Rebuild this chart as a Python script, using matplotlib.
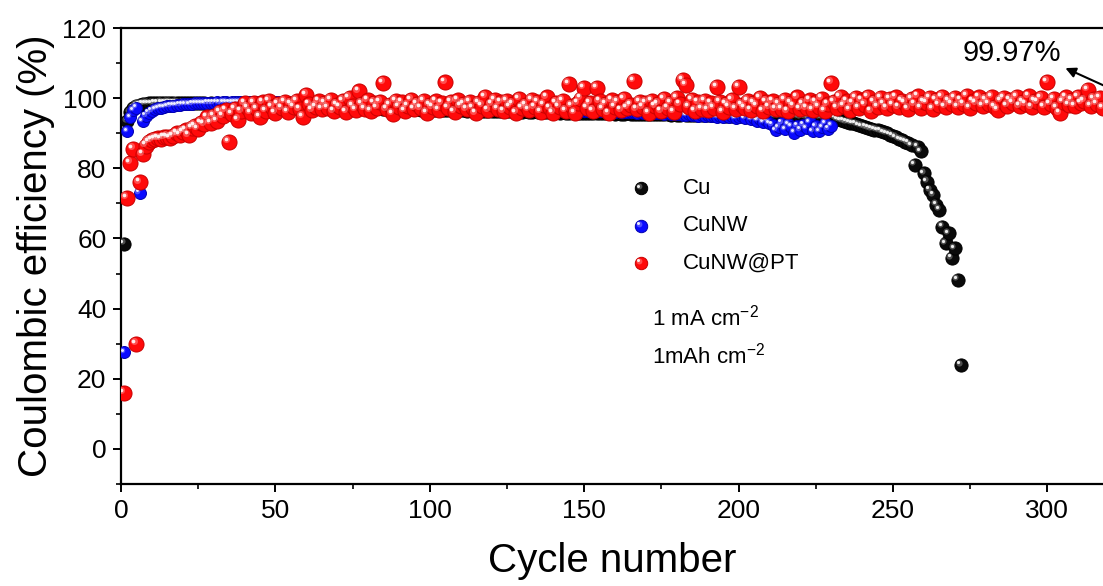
import numpy as np
import matplotlib
matplotlib.use("Agg")
import matplotlib.pyplot as plt
from matplotlib.transforms import offset_copy

plt.rcParams['font.family'] = ['Liberation Sans', 'DejaVu Sans']
plt.rcParams['mathtext.default'] = 'regular'

# =====================================================================
# Coulombic efficiency (%) per cycle
# =====================================================================
cu_ce = [
    58.5, 93.5, 96.0, 97.2, 97.8, 98.1, 98.3, 98.4, 98.5, 98.5,
    98.6, 98.6, 98.7, 98.6, 98.7, 98.7, 98.6, 98.7, 98.6, 98.6,
    98.6, 98.5, 98.6, 98.5, 98.5, 98.6, 98.5, 98.4, 98.5, 98.4,
    98.4, 98.4, 98.3, 98.4, 98.3, 98.3, 98.2, 98.3, 98.2, 98.2,
    98.1, 98.2, 98.1, 98.1, 98.0, 98.1, 98.0, 98.0, 97.9, 98.0,
    97.9, 97.9, 97.8, 97.9, 97.8, 97.8, 97.7, 97.8, 97.7, 97.7,
    97.6, 97.7, 97.6, 97.6, 97.5, 97.6, 97.5, 97.5, 97.4, 97.5,
    97.4, 97.4, 97.3, 97.4, 97.3, 97.3, 97.2, 97.3, 97.2, 97.2,
    97.1, 97.2, 97.1, 97.1, 97.0, 97.1, 97.0, 97.0, 96.9, 97.0,
    96.9, 96.9, 96.8, 96.9, 96.8, 96.8, 96.7, 96.8, 96.7, 96.7,
    96.7, 96.6, 96.7, 96.6, 96.6, 96.5, 96.6, 96.5, 96.5, 96.6,
    96.5, 96.4, 96.5, 96.4, 96.4, 96.5, 96.4, 96.3, 96.4, 96.3,
    96.3, 96.4, 96.3, 96.2, 96.3, 96.2, 96.2, 96.3, 96.2, 96.1,
    96.2, 96.1, 96.1, 96.2, 96.1, 96.0, 96.1, 96.0, 96.0, 96.1,
    96.0, 95.9, 96.0, 95.9, 95.9, 96.0, 95.9, 95.8, 95.9, 95.8,
    95.8, 95.9, 95.8, 95.7, 95.8, 95.7, 95.7, 95.8, 95.7, 95.6,
    95.7, 95.6, 95.6, 95.7, 95.6, 95.5, 95.6, 95.5, 95.5, 95.6,
    95.5, 95.4, 95.5, 95.4, 95.4, 95.5, 95.4, 95.3, 95.4, 95.3,
    95.3, 95.4, 95.3, 95.2, 95.3, 95.2, 95.2, 95.3, 95.2, 95.1,
    95.2, 95.1, 95.1, 95.2, 95.1, 95.0, 95.1, 95.0, 95.0, 95.1,
    95.0, 94.9, 95.0, 94.9, 94.9, 95.0, 94.9, 94.8, 94.9, 94.8,
    94.8, 94.9, 94.8, 94.7, 94.8, 94.7, 94.7, 94.8, 94.7, 94.6,
    94.7, 94.6, 94.6, 94.7, 94.6, 94.5, 94.6, 94.5, 94.8, 94.8,
    94.4, 94.0, 93.7, 93.5, 93.2, 93.0, 92.8, 92.6, 92.3, 92.0,
    91.8, 91.5, 91.2, 91.0, 90.8, 90.6, 90.3, 90.0, 89.6, 89.2,
    88.8, 88.3, 88.0, 87.6, 87.2, 86.6, 81.0, 86.2, 84.8, 78.6,
    76.2, 73.8, 72.4, 69.6, 68.2, 63.4, 58.6, 61.5, 54.4, 57.2,
    48.2, 23.9,
]

cunw_ce = [
    27.5, 90.5, 94.5, 96.5, 97.3, 73.0, 93.5, 95.0, 95.8, 96.4,
    96.8, 97.1, 97.3, 97.5, 97.7, 97.8, 97.9, 98.0, 98.1, 98.2,
    98.3, 98.3, 98.4, 98.5, 98.5, 98.6, 98.6, 98.7, 98.7, 98.7,
    98.8, 98.7, 98.8, 98.8, 98.7, 98.8, 98.8, 98.9, 98.8, 98.8,
    98.9, 98.8, 98.9, 98.8, 98.8, 98.9, 98.8, 98.8, 98.9, 98.8,
    98.8, 98.7, 98.8, 98.8, 98.7, 98.8, 98.7, 98.7, 98.8, 98.7,
    98.7, 98.6, 98.7, 98.6, 98.6, 98.7, 98.6, 98.5, 98.6, 98.5,
    98.5, 98.4, 98.5, 98.4, 98.4, 98.3, 98.4, 98.3, 98.3, 98.2,
    98.2, 98.3, 98.1, 98.2, 98.1, 98.0, 98.1, 98.0, 97.9, 98.0,
    97.9, 97.9, 97.8, 97.9, 97.8, 97.7, 97.8, 97.7, 97.7, 97.6,
    97.6, 97.7, 97.6, 97.5, 97.6, 97.5, 97.5, 97.4, 97.5, 97.4,
    97.4, 97.3, 97.4, 97.3, 97.3, 97.2, 97.3, 97.2, 97.2, 97.1,
    97.2, 97.1, 97.1, 97.0, 97.1, 97.0, 97.0, 96.9, 97.0, 96.9,
    96.9, 96.8, 96.9, 96.8, 96.8, 96.7, 96.8, 96.7, 96.7, 96.6,
    96.7, 96.6, 96.6, 96.5, 96.6, 96.5, 96.5, 96.4, 96.5, 96.4,
    96.4, 96.3, 96.4, 96.3, 96.3, 96.2, 96.3, 96.2, 96.2, 96.1,
    96.2, 96.1, 96.1, 96.0, 96.1, 96.0, 95.9, 96.0, 95.9, 95.8,
    95.9, 95.8, 95.8, 95.7, 95.8, 95.6, 95.7, 95.5, 95.6, 95.4,
    95.5, 95.3, 95.2, 95.4, 95.1, 95.3, 95.0, 95.2, 94.9, 95.1,
    94.8, 95.0, 94.6, 94.9, 94.7, 95.2, 94.5, 94.8, 94.3, 94.6,
    94.9, 94.2, 95.6, 94.0, 94.3, 93.6, 94.1, 93.2, 93.8, 92.8,
    92.4, 90.9, 91.8, 93.0, 91.2, 92.6, 91.9, 90.2, 92.1, 91.0,
    92.4, 91.5, 93.1, 90.6, 92.0, 90.5, 91.7, 92.8, 91.3, 92.2,
]

cunw_pt_ce = [
    16.0, 71.5, 81.5, 85.5, 30.0, 76.0, 84.0, 86.5, 87.5, 88.0,
    88.3, 88.5, 88.4, 88.8, 89.0, 88.6, 89.2, 90.0, 89.5, 90.3,
    90.8, 89.4, 91.5, 92.0, 91.2, 93.0, 92.5, 94.5, 93.0, 95.0,
    93.5, 96.0, 94.8, 96.5, 87.6, 95.5, 97.0, 93.8, 96.2, 98.5,
    97.2, 95.8, 98.6, 97.0, 94.7, 98.8, 96.4, 99.2, 97.5, 95.9,
    98.3, 97.1, 99.0, 96.1, 98.4, 97.6, 99.3, 96.8, 94.7, 100.9,
    98.2, 96.5, 97.5, 99.1, 96.9, 98.7, 97.3, 99.5, 96.2, 98.0,
    97.4, 99.2, 96.0, 100.0, 97.8, 96.6, 101.9, 98.3, 97.0, 99.4,
    96.4, 98.6, 97.2, 99.0, 104.3, 96.8, 98.1, 95.6, 99.3, 97.5,
    98.8, 96.3, 97.9, 99.6, 96.9, 98.4, 97.1, 99.2, 95.9, 98.0,
    97.4, 99.1, 96.6, 98.5, 104.5, 97.2, 98.9, 96.0, 99.4, 97.7,
    98.3, 96.8, 99.0, 97.3, 95.7, 98.6, 97.9, 100.3, 96.5, 98.2,
    99.6, 97.0, 98.8, 96.2, 99.3, 97.6, 98.4, 95.8, 99.8, 97.3,
    98.1, 96.7, 99.5, 97.4, 98.9, 96.1, 98.0, 100.2, 97.1, 95.9,
    98.7, 97.5, 99.3, 96.4, 104.0, 97.8, 95.8, 98.5, 99.9, 102.9,
    97.2, 98.6, 96.3, 102.9, 99.1, 97.0, 98.3, 95.7, 99.4, 97.6,
    98.9, 96.5, 99.7, 97.2, 98.1, 105.0, 96.8, 99.0, 97.4, 98.6,
    95.9, 99.3, 97.7, 98.4, 96.2, 99.8, 97.1, 98.7, 96.0, 100.1,
    98.2, 105.2, 103.8, 97.5, 99.6, 96.4, 98.8, 97.0, 99.2, 96.7,
    98.5, 97.3, 103.2, 99.0, 96.1, 98.4, 97.6, 99.5, 96.9, 103.2,
    98.0, 97.2, 99.3, 96.5, 98.7, 97.9, 100.0, 96.3, 98.9, 97.4,
    99.1, 96.8, 98.3, 97.0, 99.6, 96.2, 98.6, 97.7, 100.2, 96.9,
    98.4, 97.1, 99.4, 96.6, 98.8, 97.5, 99.9, 96.4, 98.2, 104.4,
    98.9, 97.3, 100.3, 97.8, 99.1, 96.7, 98.5, 100.0, 97.2, 99.4,
    98.1, 100.4, 96.2, 99.0, 97.6, 100.1, 98.3, 97.1, 99.7, 98.0,
    100.2, 97.4, 99.2, 98.6, 96.9, 99.8, 98.2, 100.5, 97.3, 99.0,
    98.7, 100.1, 97.0, 99.5, 98.1, 100.3, 97.6, 99.2, 98.4, 100.0,
    97.6, 99.4, 98.2, 100.6, 97.2, 99.1, 98.5, 100.2, 97.8, 99.6,
    98.3, 100.4, 97.5, 96.6, 99.2, 100.0, 97.9, 99.5, 98.6, 100.3,
    97.7, 99.0, 98.2, 100.5, 97.4, 99.3, 98.8, 100.1, 97.6, 104.7,
    98.4, 99.7, 97.3, 95.7, 99.0, 100.2, 98.1, 99.5, 97.8, 100.4,
    98.6, 99.3, 102.3, 97.9, 99.8, 98.3, 100.0, 97.2,
]

labels = ["Cu", "CuNW", "CuNW@PT"]
final_ce_text = "99.97%"


def glossy_scatter(ax, x, y, color, edge, size, z, transform=None):
    """Draw balls with a small highlight so they look shaded."""
    base = ax.transData if transform is None else transform
    d = np.sqrt(size)
    ax.scatter(x, y, s=size, c=color, edgecolors=edge, linewidths=0.7,
               zorder=z, transform=base)
    shift = offset_copy(base, fig=ax.figure, x=-0.18 * d, y=0.18 * d, units='points')
    ax.scatter(x, y, s=size * 0.22, c='white', alpha=0.28, linewidths=0,
               zorder=z + 0.1, transform=shift)
    shift2 = offset_copy(base, fig=ax.figure, x=-0.2 * d, y=0.2 * d, units='points')
    ax.scatter(x, y, s=size * 0.06, c='white', alpha=0.9, linewidths=0,
               zorder=z + 0.2, transform=shift2)


fig = plt.figure(figsize=(11.03, 5.86), dpi=100)
ax = fig.add_axes([121 / 1103, 1 - 484 / 586, 1 - 121 / 1103, (484 - 28) / 586])

styles = [
    ("#0a0a0a", "#000000", 90),
    ("#0a0aff", "#0000b0", 74),
    ("#ff0a0a", "#c80000", 118),
]
series = [cu_ce, cunw_ce, cunw_pt_ce]
for i, (vals, (col, edge, size)) in enumerate(zip(series, styles)):
    cycles = np.arange(1, len(vals) + 1)
    glossy_scatter(ax, cycles, vals, col, edge, size, z=3 + i)

ax.set_xlim(0, 318)
ax.set_ylim(-10, 120)
ax.set_xticks(np.arange(0, 301, 50))
ax.set_xticks(np.arange(25, 318, 50), minor=True)
ax.set_yticks(np.arange(0, 121, 20))
ax.set_yticks(np.arange(-10, 121, 20), minor=True)

for s in ['left', 'bottom', 'top']:
    ax.spines[s].set_linewidth(1.6)
ax.spines['right'].set_visible(False)
ax.tick_params(which='major', direction='out', length=5.5, width=1.4,
               labelsize=19, pad=5, top=False, right=False)
ax.tick_params(which='minor', direction='out', length=3.5, width=1.2,
               top=False, right=False)

ax.set_xlabel("Cycle number", fontsize=29, labelpad=14)
ax.set_ylabel("Coulombic efficiency (%)", fontsize=29, labelpad=5)

# legend drawn by hand: glossy ball plus label
leg_y = [0.649, 0.566, 0.485]
for (col, edge, size), lab, yy in zip(styles, labels, leg_y):
    glossy_scatter(ax, [0.5295], [yy], col, edge, 80, z=10,
                   transform=ax.transAxes)
    ax.text(0.572, yy, lab, transform=ax.transAxes, fontsize=16,
            va='center', ha='left')

ax.text(0.541, 0.364, "1 mA cm$^{-2}$", transform=ax.transAxes,
        fontsize=16, va='center', ha='left')
ax.text(0.541, 0.281, "1mAh cm$^{-2}$", transform=ax.transAxes,
        fontsize=16, va='center', ha='left')

ax.text(288.6, 112.9, final_ce_text, fontsize=21, ha='center', va='center')
ax.annotate('', xy=(305, 108.9), xytext=(321, 102.5),
            arrowprops=dict(arrowstyle='-|>', color='black', lw=1.5,
                            mutation_scale=15),
            annotation_clip=False)

fig.savefig("out.png", dpi=100)
